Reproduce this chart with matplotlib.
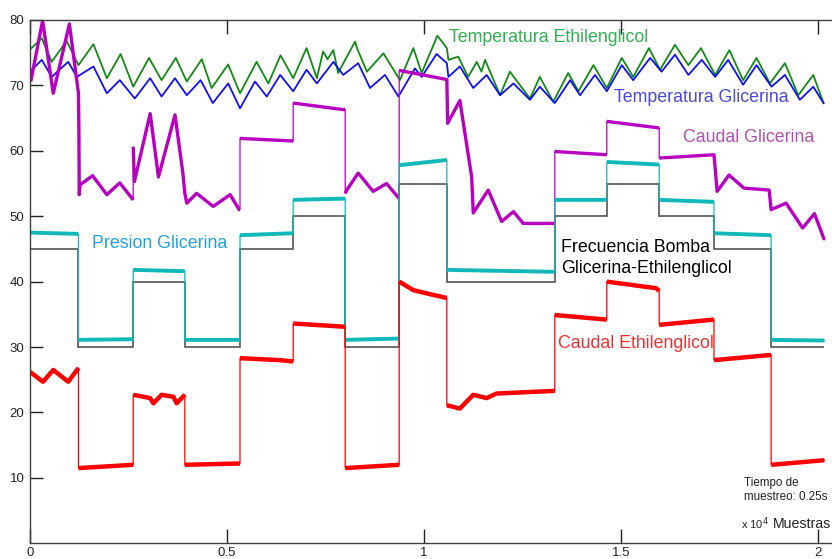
import numpy as np
import matplotlib
matplotlib.use('Agg')
import matplotlib.pyplot as plt

plt.rcParams['font.family'] = ['Liberation Sans', 'DejaVu Sans']

# x in units of 10^4 samples
# Temperatura Ethilenglicol
temp_eth_x = [0, 0.030, 0.055, 0.093, 0.123, 0.161, 0.195, 0.230, 0.262, 0.302, 0.334, 0.370, 0.398,
              0.436, 0.461, 0.503, 0.533, 0.575, 0.605, 0.636, 0.668, 0.702, 0.728, 0.744, 0.755, 0.770,
              0.782, 0.825, 0.830, 0.855, 0.897, 0.939, 0.973, 0.994, 1.034, 1.058, 1.062, 1.087, 1.112,
              1.134, 1.146, 1.155, 1.193, 1.218, 1.269, 1.294, 1.328, 1.366, 1.392, 1.430, 1.464, 1.502,
              1.531, 1.571, 1.599, 1.637, 1.671, 1.703, 1.739, 1.775, 1.810, 1.844, 1.878, 1.916, 1.950,
              1.988, 2.014]
temp_eth_y = [75.5, 77.2, 73.6, 76.8, 73.1, 76.3, 71.1, 74.8, 69.8, 74.2, 70.8, 74.2, 70.6,
              74.0, 69.6, 73.2, 68.8, 73.6, 70.3, 74.6, 71.1, 75.7, 71.1, 75.2, 74.0, 75.4,
              71.9, 76.7, 75.7, 72.1, 74.9, 70.8, 75.7, 71.9, 77.6, 75.7, 73.9, 74.4, 71.3,
              73.6, 72.1, 73.9, 68.5, 72.1, 68.0, 71.3, 67.5, 71.9, 69.1, 73.1, 69.6, 74.2,
              71.3, 75.7, 72.4, 76.2, 73.1, 75.7, 71.6, 75.4, 70.8, 74.2, 70.3, 73.4, 68.5,
              71.6, 67.3]

# Temperatura Glicerina
temp_gli_x = [0, 0.030, 0.055, 0.097, 0.119, 0.161, 0.195, 0.228, 0.266, 0.305, 0.334, 0.368, 0.398,
              0.433, 0.464, 0.503, 0.533, 0.571, 0.601, 0.635, 0.668, 0.702, 0.728, 0.770, 0.795, 0.833,
              0.863, 0.901, 0.935, 0.977, 0.994, 1.032, 1.058, 1.062, 1.091, 1.125, 1.159, 1.193, 1.227,
              1.269, 1.294, 1.332, 1.371, 1.396, 1.434, 1.464, 1.502, 1.531, 1.574, 1.603, 1.637, 1.671,
              1.705, 1.739, 1.772, 1.810, 1.844, 1.882, 1.916, 1.954, 1.988, 2.014]
temp_gli_y = [72.1, 73.9, 71.3, 73.6, 71.3, 72.9, 68.8, 70.8, 68.0, 71.1, 68.3, 71.1, 68.5,
              70.8, 67.3, 70.3, 66.5, 70.6, 68.3, 71.6, 69.1, 72.4, 70.3, 73.6, 71.6, 73.4,
              69.6, 71.6, 68.3, 72.6, 71.3, 74.8, 73.4, 71.3, 72.9, 69.6, 71.6, 68.5, 70.3,
              67.8, 69.8, 67.3, 70.8, 68.5, 71.6, 69.1, 73.1, 70.8, 74.2, 72.1, 74.7, 71.6,
              73.9, 71.3, 73.9, 70.1, 73.1, 69.8, 71.6, 67.8, 69.8, 67.3]

# Caudal Glicerina
caudal_gli_x = [0.002, 0.032, 0.059, 0.100, 0.123, 0.124, 0.125, 0.127, 0.159, 0.195, 0.228, 0.262,
                0.262, 0.265, 0.305, 0.326, 0.368, 0.388, 0.393, 0.398, 0.423, 0.465, 0.508, 0.531,
                0.533, 0.533, 0.668, 0.668, 0.795, 0.800, 0.800, 0.804, 0.833, 0.871, 0.905, 0.937,
                0.937, 1.058, 1.060, 1.091, 1.121, 1.125, 1.163, 1.197, 1.227, 1.252, 1.332, 1.332,
                1.464, 1.464, 1.597, 1.597, 1.736, 1.744, 1.774, 1.812, 1.876, 1.881, 1.919, 1.961,
                1.991, 2.016]
caudal_gli_y = [70.6, 79.9, 68.8, 79.4, 68.8, 63.7, 53.3, 54.8, 56.2, 53.3, 55.1, 52.5,
                60.6, 55.3, 65.7, 56.0, 65.5, 56.6, 53.5, 52.0, 53.5, 51.5, 53.3, 51.0,
                51.0, 61.9, 61.5, 67.3, 66.3, 66.3, 53.5, 54.0, 56.6, 53.8, 55.0, 52.7,
                72.3, 70.9, 64.2, 67.7, 56.0, 50.5, 54.0, 49.2, 50.7, 48.9, 48.9, 59.9,
                59.4, 64.5, 63.5, 58.9, 59.4, 53.8, 56.3, 54.3, 54.0, 51.0, 52.0, 48.2,
                50.4, 46.4]

# Presion Glicerina
presion_x = [0, 0.123, 0.123, 0.262, 0.262, 0.393, 0.393, 0.533, 0.533, 0.668, 0.668, 0.800,
             0.800, 0.937, 0.937, 1.058, 1.058, 1.332, 1.332, 1.464, 1.464, 1.597, 1.597, 1.736,
             1.736, 1.881, 1.881, 2.016]
presion_y = [47.5, 47.3, 31.1, 31.2, 41.8, 41.6, 31.1, 31.1, 47.1, 47.4, 52.5, 52.7,
             31.1, 31.3, 57.8, 58.6, 41.8, 41.5, 52.5, 52.5, 58.3, 57.9, 52.5, 52.2,
             47.4, 47.1, 31.1, 31.0]

# Frecuencia Bomba (step levels and edges)
freq_edges = [0, 0.123, 0.262, 0.393, 0.533, 0.668, 0.800, 0.937, 1.058, 1.332, 1.464, 1.597,
              1.736, 1.881, 2.016]
freq_levels = [45, 30, 40, 30, 45, 50, 30, 55, 40, 50, 55, 50, 45, 30]

# Caudal Ethilenglicol
caudal_eth_x = [0, 0.033, 0.059, 0.097, 0.123, 0.123, 0.262, 0.262, 0.305, 0.313, 0.334, 0.364,
                0.372, 0.393, 0.393, 0.533, 0.533, 0.635, 0.668, 0.668, 0.800, 0.800, 0.937, 0.937,
                0.973, 1.007, 1.058, 1.058, 1.091, 1.125, 1.159, 1.184, 1.332, 1.332, 1.464, 1.464,
                1.589, 1.597, 1.597, 1.736, 1.736, 1.881, 1.881, 2.016]
caudal_eth_y = [26.2, 24.7, 26.5, 24.7, 26.8, 11.5, 12.0, 22.7, 22.2, 21.4, 22.7, 22.4,
                21.4, 22.7, 12.0, 12.2, 28.3, 28.0, 27.8, 33.6, 33.1, 11.5, 12.0, 40.0,
                38.7, 38.2, 37.5, 21.1, 20.6, 22.7, 22.2, 22.9, 23.3, 34.9, 34.2, 40.0,
                39.0, 38.6, 33.4, 34.2, 28.0, 28.8, 12.0, 12.7]


def plot_noisy(ax, x, y, color, band):
    # thin line everywhere, thicker band on the flat stretches
    ax.plot(x, y, color=color, lw=0.9)
    xs, ys = [], []
    for i in range(len(x)):
        if i > 0 and x[i] == x[i - 1]:
            xs.append(np.nan)
            ys.append(np.nan)
        xs.append(x[i])
        ys.append(y[i])
    ax.plot(xs, ys, color=color, lw=band, solid_capstyle='butt')


fig = plt.figure(figsize=(8.32, 5.59), dpi=100)
ax = fig.add_axes([30 / 832, 15.7 / 559, 802 / 832, 523.3 / 559])

ax.plot(temp_eth_x, temp_eth_y, color='#138a13', lw=1.3)
ax.plot(temp_gli_x, temp_gli_y, color='#1010f0', lw=1.3)
plot_noisy(ax, caudal_gli_x, caudal_gli_y, '#b800c0', 2.4)
plot_noisy(ax, presion_x, presion_y, '#10b8b8', 2.8)
ax.stairs(freq_levels, freq_edges, color='#555555', lw=1.2, baseline=None)
plot_noisy(ax, caudal_eth_x, caudal_eth_y, '#ff0000', 3.2)

fs = 12.8
ax.text(1.063, 77.3, 'Temperatura Ethilenglicol', color='#30b050', fontsize=fs, va='center')
ax.text(1.482, 68.1, 'Temperatura Glicerina', color='#4848e0', fontsize=fs, va='center')
ax.text(1.657, 62.1, 'Caudal Glicerina', color='#b050b0', fontsize=fs, va='center')
ax.text(0.157, 45.8, 'Presion Glicerina', color='#20a0e0', fontsize=fs, va='center')
ax.text(1.348, 43.6, 'Frecuencia Bomba\nGlicerina-Ethilenglicol', color='black', fontsize=fs,
        va='center', linespacing=1.25)
ax.text(1.340, 30.6, 'Caudal Ethilenglicol', color='#f03030', fontsize=fs, va='center')
ax.text(1.812, 8.15, 'Tiempo de\nmuestreo: 0.25s', color='#222222', fontsize=8.4, va='center',
        linespacing=1.3)
ax.text(1.805, 3.0, r'x 10$^4$', color='#222222', fontsize=8, va='center')
ax.text(1.886, 3.0, 'Muestras', color='#222222', fontsize=10.2, va='center')

ax.set_xlim(0, 802 / 394)
ax.set_ylim(0, 80)
ax.set_xticks([0, 0.5, 1, 1.5, 2])
ax.set_xticklabels(['0', '0.5', '1', '1.5', '2'])
ax.set_yticks([10, 20, 30, 40, 50, 60, 70, 80])

for s in ['top', 'left', 'bottom']:
    ax.spines[s].set_color('#404040')
    ax.spines[s].set_linewidth(1.0)
ax.spines['right'].set_visible(False)

ax.tick_params(axis='x', direction='in', top=True, length=10, width=1, colors='#222222',
               labelsize=9.5, pad=3)
ax.tick_params(axis='y', direction='in', right=False, length=9, width=1, colors='#222222',
               labelsize=9.5, pad=4)

fig.savefig('out.png', dpi=100)
